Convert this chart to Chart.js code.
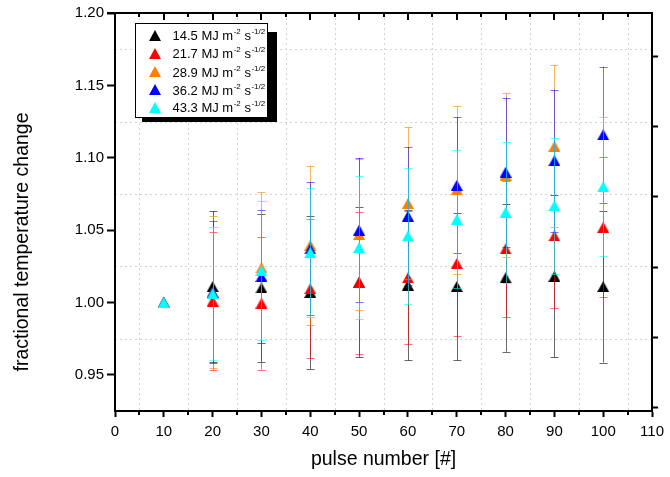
<!DOCTYPE html>
<html><head><meta charset="utf-8">
<script src="https://cdn.jsdelivr.net/npm/chart.js@4"></script>
<style>html,body{margin:0;padding:0;background:#fff;}canvas{display:block;}</style>
</head><body>
<canvas id="c" width="670" height="477"></canvas>
<script>
// ---- data ----
const pulses = [10, 20, 30, 40, 50, 60, 70, 80, 90, 100];
const fluences = ['14.5', '21.7', '28.9', '36.2', '43.3'];

const val14_5 = [1.000, 1.011, 1.010, 1.007, 1.014, 1.012, 1.011, 1.017, 1.018, 1.011];
const err14_5 = [0, 0.052, 0.051, 0.053, 0.052, 0.052, 0.051, 0.051, 0.056, 0.0525];

const val21_7 = [1.000, 1.001, 0.9995, 1.0095, 1.0137, 1.017, 1.027, 1.037, 1.046, 1.052];
const err21_7 = [0, 0.048, 0.046, 0.048, 0.049, 0.046, 0.050, 0.047, 0.050, 0.0485];

const val28_9 = [1.000, 1.007, 1.024, 1.0396, 1.047, 1.0685, 1.078, 1.088, 1.108, null];
const err28_9 = [0, 0.0525, 0.052, 0.055, 0.052, 0.0525, 0.058, 0.0566, 0.056, null];

const val36_2 = [1.000, 1.007, 1.018, 1.037, 1.050, 1.0597, 1.081, 1.090, 1.098, 1.116];
const err36_2 = [0, 0.049, 0.046, 0.046, 0.050, 0.0477, 0.047, 0.0515, 0.049, 0.047];

const val43_3 = [1.000, 1.006, 1.022, 1.0345, 1.038, 1.046, 1.0574, 1.0623, 1.0669, 1.080];
const err43_3 = [0, 0.046, 0.048, 0.0445, 0.0495, 0.047, 0.0476, 0.0487, 0.047, 0.048];

const xTickValues = [0, 10, 20, 30, 40, 50, 60, 70, 80, 90, 100, 110];
const yTickLabels = ['0.95', '1.00', '1.05', '1.10', '1.15', '1.20'];

const seriesColors = ['#000000', '#ff0000', '#ff8000', '#0000ff', '#00ffff'];
const errColors = ['rgba(40,40,40,0.7)', 'rgba(255,0,0,0.55)', 'rgba(255,128,0,0.6)', 'rgba(0,0,255,0.55)', 'rgba(0,255,255,0.6)'];

const allVals = [val14_5, val21_7, val28_9, val36_2, val43_3];
const allErrs = [err14_5, err21_7, err28_9, err36_2, err43_3];

const FONT = 'Arial, "Liberation Sans", sans-serif';
const yTitle = 'fractional temperature change';

function triCanvas(color, w, h) {
  const c = document.createElement('canvas'); c.width = w; c.height = h;
  const g = c.getContext('2d'); g.fillStyle = color;
  g.beginPath(); g.moveTo(w / 2, 0); g.lineTo(w, h); g.lineTo(0, h); g.closePath(); g.fill();
  return c;
}

const datasets = fluences.map((f, s) => ({
  label: f + ' MJ m-2 s-1/2',
  data: pulses.map((p, i) => ({ x: p, y: allVals[s][i], e: allErrs[s][i] })).filter(d => d.y !== null),
  pointStyle: triCanvas(seriesColors[s], 12, 11),
  pointRadius: 6,
  showLine: false,
  order: 5 - s
}));

const errorBarPlugin = {
  id: 'errorBars',
  beforeDatasetDraw(chart, args) {
    const ds = chart.data.datasets[args.index];
    const s = args.index;
    const xs = chart.scales.x, ys = chart.scales.y;
    const ctx = chart.ctx;
    ctx.save();
    ctx.strokeStyle = errColors[s];
    ctx.lineWidth = 1;
    ds.data.forEach(d => {
      if (!d.e) return;
      const px = Math.round(xs.getPixelForValue(d.x)) + 0.5;
      const top = ys.getPixelForValue(d.y + d.e);
      const bot = ys.getPixelForValue(d.y - d.e);
      ctx.beginPath();
      ctx.moveTo(px, top); ctx.lineTo(px, bot);
      ctx.moveTo(px - 4, Math.round(top) + 0.5); ctx.lineTo(px + 4, Math.round(top) + 0.5);
      ctx.moveTo(px - 4, Math.round(bot) + 0.5); ctx.lineTo(px + 4, Math.round(bot) + 0.5);
      ctx.stroke();
    });
    ctx.restore();
  }
};

const framePlugin = {
  id: 'frame',
  beforeDraw(chart) {
    const { ctx, chartArea: a } = chart;
    const xs = chart.scales.x, ys = chart.scales.y;
    ctx.save();
    ctx.strokeStyle = '#d4d4d4';
    ctx.lineWidth = 1;
    ctx.setLineDash([2, 3]);
    for (let v = 5; v < 110; v += 10) {
      const px = Math.round(xs.getPixelForValue(v)) + 0.5;
      ctx.beginPath(); ctx.moveTo(px, a.top); ctx.lineTo(px, a.bottom); ctx.stroke();
    }
    for (let v = 0.975; v < 1.2; v += 0.05) {
      const py = Math.round(ys.getPixelForValue(v)) + 0.5;
      ctx.beginPath(); ctx.moveTo(a.left, py); ctx.lineTo(a.right, py); ctx.stroke();
    }
    ctx.restore();
  },
  afterDraw(chart) {
    const { ctx, chartArea: a } = chart;
    const xs = chart.scales.x;
    ctx.save();
    // y-axis title
    ctx.save();
    ctx.translate(23, 242);
    ctx.rotate(-Math.PI / 2);
    ctx.fillStyle = '#000';
    ctx.font = '19.5px ' + FONT;
    ctx.textAlign = 'center';
    ctx.textBaseline = 'middle';
    ctx.fillText(yTitle, 0, 0);
    ctx.restore();

    ctx.strokeStyle = '#000';
    ctx.lineWidth = 2;
    ctx.beginPath(); ctx.moveTo(a.left - 8, a.top); ctx.lineTo(a.right + 1, a.top); ctx.stroke();
    for (let v = 0; v <= 110; v += 5) {
      const px = Math.round(xs.getPixelForValue(v));
      const major = v % 10 === 0;
      ctx.beginPath(); ctx.moveTo(px, a.top); ctx.lineTo(px, a.top + (major ? 7 : 4)); ctx.stroke();
      if (!major) {
        ctx.beginPath(); ctx.moveTo(px, a.bottom); ctx.lineTo(px, a.bottom + 4); ctx.stroke();
      }
    }
    // legend
    const bx = 135, by = 23, bw = 132, bh = 94;
    ctx.fillStyle = '#000';
    ctx.fillRect(bx + 7, by + 9, bw + 3, bh - 4);
    ctx.fillStyle = '#fff';
    ctx.fillRect(bx, by, bw, bh);
    ctx.lineWidth = 1;
    ctx.strokeStyle = '#000';
    ctx.strokeRect(bx + 0.5, by + 0.5, bw, bh);
    const rows = [35.3, 53.3, 71.5, 89.5, 107.3];
    fluences.forEach((f, s) => {
      const cy = rows[s];
      ctx.drawImage(datasets[s].pointStyle, 149, Math.round(cy - 5.5));
      let x = 172.5;
      const yb = Math.round(cy + 5);
      ctx.fillStyle = '#000';
      ctx.textBaseline = 'alphabetic';
      ctx.textAlign = 'left';
      ctx.font = '13px ' + FONT;
      let t = f + ' MJ m';
      ctx.fillText(t, x, yb); x += ctx.measureText(t).width + 0.5;
      ctx.font = '8px ' + FONT;
      ctx.fillText('-2', x, yb - 6); x += ctx.measureText('-2').width;
      ctx.font = '13px ' + FONT;
      ctx.fillText(' s', x, yb); x += ctx.measureText(' s').width + 0.5;
      ctx.font = '8px ' + FONT;
      ctx.fillText('-1/2', x, yb - 6);
    });
    ctx.restore();
  }
};

new Chart(document.getElementById('c'), {
  type: 'scatter',
  data: { datasets },
  plugins: [errorBarPlugin, framePlugin],
  options: {
    responsive: false,
    animation: false,
    events: [],
    layout: { padding: { top: 13, left: 0, right: 0, bottom: 0 } },
    plugins: { legend: { display: false }, tooltip: { enabled: false } },
    scales: {
      x: {
        type: 'linear', min: 0, max: 110,
        afterBuildTicks: s => { s.ticks = xTickValues.map(v => ({ value: v })); },
        afterFit: s => { s.height = 66; },
        ticks: { color: '#000', font: { size: 15, family: FONT }, padding: 6, maxRotation: 0, autoSkip: false,
                 callback: v => String(v) },
        grid: { drawOnChartArea: false, tickLength: 6, tickColor: '#000', tickWidth: 2 },
        border: { color: '#000', width: 2 },
        title: { display: true, text: 'pulse number [#]', color: '#000', font: { size: 19.5, family: FONT }, padding: { top: 0, bottom: 6 } }
      },
      y: {
        type: 'linear', min: 0.925, max: 1.2, position: 'left',
        afterBuildTicks: s => { s.ticks = yTickLabels.map(v => ({ value: parseFloat(v) })); },
        afterFit: s => { s.width = 115; },
        ticks: { color: '#000', font: { size: 15, family: FONT }, padding: 3,
                 callback: v => v.toFixed(2) },
        grid: { drawOnChartArea: false, tickLength: 8, tickColor: '#000', tickWidth: 2 },
        border: { color: '#000', width: 2 },
        title: { display: false }
      },
      y2: {
        type: 'linear', min: -0.053, max: 5.625, position: 'right',
        afterBuildTicks: s => { s.ticks = [0, 1, 2, 3, 4, 5].map(v => ({ value: v })); },
        afterFit: s => { s.width = 13; },
        ticks: { display: false },
        grid: { drawOnChartArea: false, tickLength: 6, tickColor: '#000', tickWidth: 2 },
        border: { color: '#000', width: 2 }
      }
    }
  }
});
</script>
</body></html>
